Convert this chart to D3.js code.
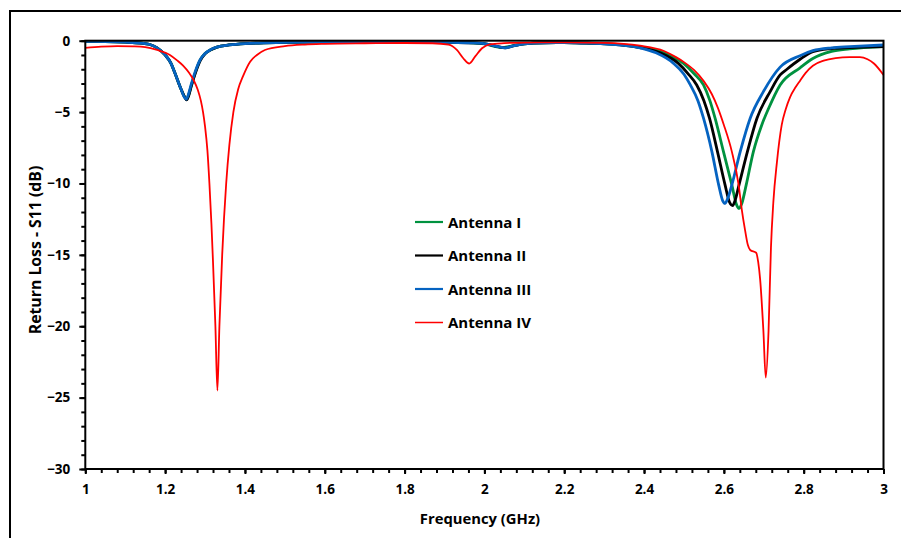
<!DOCTYPE html>
<html>
<head>
<meta charset="utf-8">
<script src="https://cdn.jsdelivr.net/npm/d3@7/dist/d3.min.js"></script>
<style>
  html, body { margin: 0; padding: 0; background: #fff; }
  svg { display: block; }
  text { font-family: "Open Sans", Lato, sans-serif; font-weight: 700; fill: #000; }
</style>
</head>
<body>
<svg id="chart" width="901" height="538"></svg>
<script>
// Frequency (GHz) and S11 (dB) samples for each antenna
const freqI = [1.00,1.05,1.10,1.14,1.16,1.18,1.20,1.215,1.225,1.24,1.249,1.254,1.259,1.266,1.276,1.288,1.30,1.313,1.33,1.36,1.40,1.50,1.60,1.70,1.80,1.90,1.96,2.00,2.025,2.045,2.06,2.08,2.10,2.15,2.20,2.25,2.30,2.35,2.39,2.45,2.499,2.525,2.549,2.565,2.578,2.599,2.620,2.632,2.638,2.645,2.656,2.674,2.695,2.712,2.741,2.791,2.823,2.87,2.915,3.00];
const s11I  = [-0.05,-0.06,-0.10,-0.17,-0.25,-0.50,-1.00,-1.60,-2.30,-3.40,-3.95,-4.10,-3.80,-3.10,-2.20,-1.35,-0.90,-0.65,-0.45,-0.30,-0.20,-0.12,-0.08,-0.07,-0.07,-0.10,-0.14,-0.22,-0.40,-0.48,-0.42,-0.30,-0.22,-0.15,-0.14,-0.17,-0.20,-0.30,-0.45,-0.85,-1.59,-2.30,-3.10,-4.20,-5.43,-7.77,-10.10,-11.50,-11.75,-11.40,-10.10,-7.77,-5.90,-4.75,-3.10,-1.90,-1.25,-0.75,-0.58,-0.42];

const freqII = [1.00,1.05,1.10,1.14,1.16,1.18,1.20,1.215,1.225,1.24,1.249,1.254,1.259,1.266,1.276,1.288,1.30,1.313,1.33,1.36,1.40,1.50,1.60,1.70,1.80,1.90,1.97,2.01,2.035,2.052,2.07,2.10,2.15,2.20,2.25,2.30,2.35,2.39,2.44,2.486,2.51,2.532,2.55,2.564,2.584,2.603,2.614,2.622,2.628,2.638,2.659,2.683,2.716,2.741,2.758,2.791,2.823,2.87,2.915,3.00];
const s11II  = [-0.05,-0.06,-0.10,-0.17,-0.25,-0.50,-1.00,-1.60,-2.30,-3.40,-3.95,-4.15,-3.85,-3.15,-2.25,-1.40,-0.92,-0.66,-0.45,-0.30,-0.20,-0.12,-0.08,-0.07,-0.07,-0.10,-0.15,-0.25,-0.42,-0.50,-0.38,-0.22,-0.15,-0.14,-0.17,-0.22,-0.32,-0.48,-0.85,-1.59,-2.30,-3.10,-4.20,-5.43,-7.77,-10.10,-11.30,-11.55,-11.20,-10.10,-7.77,-5.43,-3.57,-2.40,-2.00,-1.30,-0.77,-0.55,-0.48,-0.42];

const freqIII = [1.00,1.05,1.10,1.14,1.16,1.18,1.20,1.215,1.225,1.24,1.248,1.253,1.258,1.265,1.275,1.2875,1.30,1.3125,1.33,1.36,1.40,1.50,1.60,1.70,1.80,1.90,1.97,2.01,2.035,2.052,2.07,2.10,2.15,2.20,2.25,2.30,2.35,2.39,2.43,2.474,2.50,2.516,2.535,2.549,2.57,2.587,2.597,2.603,2.609,2.620,2.641,2.666,2.699,2.741,2.791,2.823,2.87,2.915,3.00];
const s11III  = [-0.05,-0.06,-0.10,-0.17,-0.25,-0.50,-1.00,-1.60,-2.30,-3.40,-3.95,-4.10,-3.80,-3.10,-2.20,-1.35,-0.90,-0.65,-0.45,-0.30,-0.20,-0.12,-0.08,-0.07,-0.07,-0.10,-0.15,-0.25,-0.42,-0.50,-0.38,-0.22,-0.15,-0.14,-0.17,-0.22,-0.33,-0.50,-0.85,-1.59,-2.35,-3.10,-4.20,-5.43,-7.77,-10.10,-11.20,-11.40,-11.10,-10.10,-7.77,-5.43,-3.57,-1.85,-1.05,-0.70,-0.50,-0.42,-0.30];

const freqIV = [1.00,1.04,1.08,1.12,1.15,1.18,1.212,1.23,1.245,1.26,1.272,1.282,1.2895,1.295,1.30,1.306,1.311,1.316,1.32,1.326,1.331,1.336,1.343,1.353,1.361,1.371,1.383,1.395,1.413,1.43,1.45,1.50,1.55,1.60,1.70,1.80,1.87,1.91,1.931,1.947,1.962,1.977,1.994,2.014,2.05,2.10,2.20,2.30,2.39,2.45,2.48,2.50,2.525,2.55,2.57,2.585,2.60,2.620,2.637,2.645,2.653,2.660,2.666,2.681,2.686,2.691,2.699,2.705,2.712,2.718,2.724,2.733,2.745,2.755,2.766,2.78,2.791,2.805,2.823,2.85,2.88,2.915,2.941,2.96,2.976,3.00];
const s11IV  = [-0.50,-0.42,-0.38,-0.40,-0.45,-0.65,-1.00,-1.38,-1.75,-2.25,-2.80,-3.45,-4.20,-5.00,-6.00,-7.70,-10.00,-12.80,-15.50,-20.00,-24.50,-20.00,-15.00,-10.00,-7.30,-5.00,-3.40,-2.50,-1.47,-1.00,-0.65,-0.38,-0.27,-0.22,-0.18,-0.16,-0.18,-0.28,-0.65,-1.23,-1.60,-1.10,-0.53,-0.25,-0.17,-0.13,-0.12,-0.15,-0.35,-0.72,-1.15,-1.50,-2.05,-2.85,-3.75,-4.70,-5.90,-7.77,-10.10,-11.85,-13.25,-14.30,-14.66,-14.85,-15.50,-16.75,-20.30,-23.60,-20.30,-14.50,-11.30,-8.50,-5.90,-4.80,-3.95,-3.25,-2.80,-2.25,-1.75,-1.40,-1.22,-1.15,-1.15,-1.30,-1.60,-2.40];

const seriesNames  = ["Antenna I", "Antenna II", "Antenna III", "Antenna IV"];
const seriesColors = ["#00923f", "#000000", "#0563c1", "#ff0000"];

const xTicks = [1, 1.2, 1.4, 1.6, 1.8, 2, 2.2, 2.4, 2.6, 2.8, 3];
const yTicks = [0, -5, -10, -15, -20, -25, -30];

const seriesData = [
  { name: seriesNames[0], color: seriesColors[0], width: 2.8, f: freqI,   v: s11I },
  { name: seriesNames[1], color: seriesColors[1], width: 2.8, f: freqII,  v: s11II },
  { name: seriesNames[2], color: seriesColors[2], width: 2.8, f: freqIII, v: s11III },
  { name: seriesNames[3], color: seriesColors[3], width: 1.8, f: freqIV,  v: s11IV }
];

const svg = d3.select("#chart");

// outer frame of the figure
svg.append("rect")
  .attr("x", 10).attr("y", 11).attr("width", 900).attr("height", 540)
  .attr("fill", "none").attr("stroke", "#000").attr("stroke-width", 2);

const plotLeft = 85.3, plotRight = 883.5, plotTop = 40.7, plotBottom = 469;

const x = d3.scaleLinear().domain([1, 3]).range([plotLeft, plotRight]);
const y = d3.scaleLinear().domain([-30, 0]).range([plotBottom, plotTop]);

// minor ticks
svg.append("g")
  .attr("transform", `translate(0,${plotBottom})`)
  .call(d3.axisBottom(x).tickValues(d3.range(1, 3.0001, 0.04)).tickSize(4).tickFormat(""))
  .call(g => g.select(".domain").remove())
  .call(g => g.selectAll("line").attr("stroke", "#000").attr("stroke-width", 2));
svg.append("g")
  .attr("transform", `translate(${plotLeft},0)`)
  .call(d3.axisLeft(y).tickValues(d3.range(-30, 0.5, 1)).tickSize(4).tickFormat(""))
  .call(g => g.select(".domain").remove())
  .call(g => g.selectAll("line").attr("stroke", "#000").attr("stroke-width", 2));

// major ticks and labels
const xAxis = svg.append("g")
  .attr("transform", `translate(0,${plotBottom})`)
  .call(d3.axisBottom(x).tickValues(xTicks).tickSize(5).tickPadding(10).tickFormat(d3.format("")));
const yAxis = svg.append("g")
  .attr("transform", `translate(${plotLeft},0)`)
  .call(d3.axisLeft(y).tickValues(yTicks).tickSize(6).tickPadding(9).tickFormat(d3.format("")));
[xAxis, yAxis].forEach(g => {
  g.select(".domain").remove();
  g.selectAll("line").attr("stroke", "#000").attr("stroke-width", 2);
  g.selectAll("text").attr("font-family", "'Open Sans', sans-serif").attr("font-weight", 700)
    .attr("font-size", 13.5).attr("fill", "#000");
});

// series lines
const line = d3.line()
  .x(d => x(d[0]))
  .y(d => y(d[1]))
  .curve(d3.curveMonotoneX);

svg.append("g").selectAll("path")
  .data(seriesData)
  .join("path")
  .attr("d", s => line(s.f.map((f, i) => [f, s.v[i]])))
  .attr("fill", "none")
  .attr("stroke", s => s.color)
  .attr("stroke-width", s => s.width)
  .attr("stroke-linejoin", "round");

// plot area border
svg.append("rect")
  .attr("x", plotLeft).attr("y", plotTop).attr("width", plotRight - plotLeft).attr("height", plotBottom - plotTop)
  .attr("fill", "none").attr("stroke", "#000").attr("stroke-width", 2);

// axis titles
svg.append("text")
  .attr("x", 480).attr("y", 524)
  .attr("text-anchor", "middle").attr("font-size", 14.8)
  .text("Frequency (GHz)");
svg.append("text")
  .attr("transform", `translate(41,250) rotate(-90)`)
  .attr("text-anchor", "middle").attr("font-size", 15.8)
  .text("Return Loss - S11 (dB)");

// legend
const legend = svg.append("g").attr("transform", "translate(415,222)");
const rows = legend.selectAll("g")
  .data(seriesData)
  .join("g")
  .attr("transform", (d, i) => `translate(0,${i * 33.5})`);
rows.append("line")
  .attr("x1", 0).attr("x2", 28).attr("y1", 0).attr("y2", 0)
  .attr("stroke", d => d.color).attr("stroke-width", (d, i) => i === 3 ? 1.5 : 2.2);
rows.append("text")
  .attr("x", 33).attr("y", 5.5).attr("font-size", 15)
  .text(d => d.name);
</script>
</body>
</html>
